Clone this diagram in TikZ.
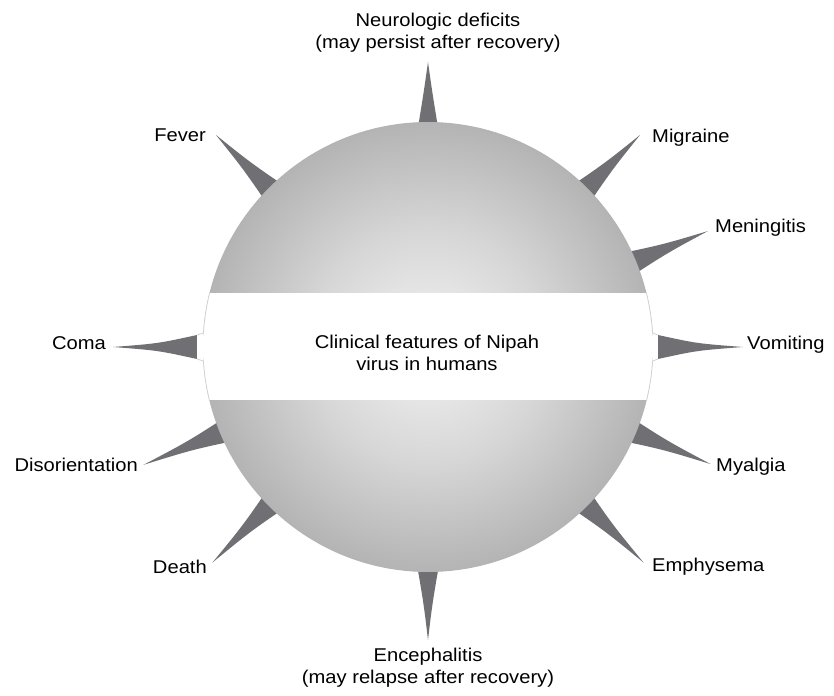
\documentclass[tikz,border=0pt]{standalone}
\usepackage{fontspec}
\setmainfont{Liberation Sans}[FakeStretch=1.09]
% greys of the sphere, from the centre outwards
\definecolor{shadeA}{gray}{0.95}
\definecolor{shadeB}{gray}{0.84}
\definecolor{shadeC}{gray}{0.66}
\definecolor{shadeD}{gray}{0.50}
\definecolor{shadeE}{gray}{0.46}
\definecolor{spikegray}{RGB}{112,112,116}
\definecolor{bandedge}{gray}{0.82}
\pgfdeclareradialshading{sphere}{\pgfpoint{0bp}{0bp}}{%
  color(0bp)=(shadeA); color(13bp)=(shadeB); color(29bp)=(shadeC);
  color(46bp)=(shadeD); color(50bp)=(shadeE)}
% a spike with slightly hollow sides: angle, half width at its hidden base, length of its tip
\newcommand\drawspike[3]{%
  \fill[spikefill, rotate=#1] (195,-#2) .. controls (255,{-0.3*#2}) .. (#3,0)
    .. controls (255,{0.3*#2}) .. (195,#2) -- cycle;}
\begin{document}
\begin{tikzpicture}[x=1pt,y=1pt,
  lbl/.style={font=\fontsize{18.5}{22}\selectfont, inner sep=0pt, align=center, text=black},
  spikefill/.style={fill=spikegray},
  bandline/.style={draw=bandedge, line width=0.8pt}]
\useasboundingbox (-428,-348) rectangle (406,347);

% spikes behind the sphere
\drawspike{90}{14}{285}
\drawspike{45}{16.3}{300}
\drawspike{22.5}{16.3}{303}
\drawspike{-22.5}{16.3}{306}
\drawspike{-45}{16.3}{305}
\drawspike{-90}{15}{293}
\drawspike{225}{16.3}{305}
\drawspike{202.5}{16.3}{308}
\drawspike{135}{16.3}{300}

% the sphere
\shade[shading=sphere] (0,0) circle (225);

% white band across the middle
\begin{scope}
  \clip (0,0) circle (225);
  \fill[white] (-240,-53) rectangle (240,54);
\end{scope}
\draw[bandline] (166.11:225) arc[start angle=166.11, end angle=176.43, radius=225] -- (-231,12);
\draw[bandline] (-231,-12) -- (183.57:225) arc[start angle=183.57, end angle=193.63, radius=225];
\draw[bandline] (13.89:225) arc[start angle=13.89, end angle=3.57, radius=225] -- (230,12);
\draw[bandline] (230,-12) -- (-3.57:225) arc[start angle=-3.57, end angle=-13.63, radius=225];

% the two horizontal spikes sit on the band
\fill[spikefill] (-231,-12) .. controls (-270,-3.5) .. (-315,0) .. controls (-270,3.5) .. (-231,12) -- cycle;
\fill[spikefill] (230,-12) .. controls (269,-3.5) .. (315,0) .. controls (269,3.5) .. (230,12) -- cycle;

% texts
\node[lbl] (hub) at (-1,-6) {Clinical features of Nipah\\virus in humans};
\node[lbl] (neuro) at (10,314) {Neurologic deficits\\(may persist after recovery)};
\node[lbl, anchor=east] (fever) at (-222,212) {Fever};
\node[lbl, anchor=west] (migraine) at (224,209) {Migraine};
\node[lbl, anchor=west] (meningitis) at (287,119) {Meningitis};
\node[lbl, anchor=west] (vomiting) at (319,2) {Vomiting};
\node[lbl, anchor=west] (myalgia) at (288,-120) {Myalgia};
\node[lbl, anchor=west] (emphysema) at (224,-220) {Emphysema};
\node[lbl] (enceph) at (0,-321) {Encephalitis\\(may relapse after recovery)};
\node[lbl, anchor=east] (death) at (-221,-220) {Death};
\node[lbl, anchor=east] (disor) at (-290,-118) {Disorientation};
\node[lbl, anchor=east] (coma) at (-322,4) {Coma};
\end{tikzpicture}
\end{document}
